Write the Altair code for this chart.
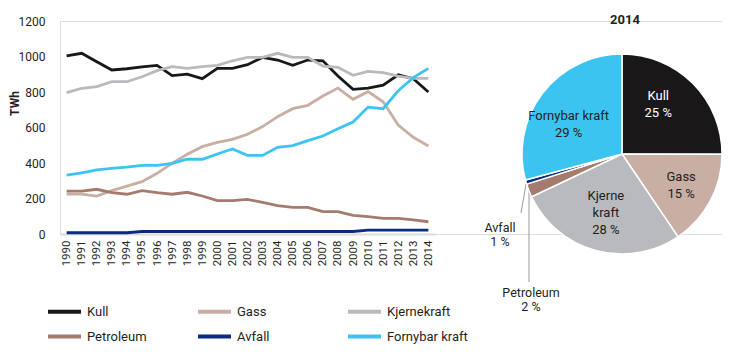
import altair as alt
import pandas as pd

years = list(range(1990, 2015))
kull = [1004, 1018, 970, 924, 931, 941, 950, 892, 901, 875, 933, 933, 954, 995, 980, 950, 980, 976, 890, 815, 822, 839, 897, 875, 800]
gass = [225, 225, 214, 244, 270, 295, 342, 398, 449, 492, 516, 533, 562, 605, 661, 706, 725, 777, 822, 759, 802, 745, 614, 545, 496]
kjernekraft = [796, 821, 830, 858, 858, 886, 920, 943, 933, 943, 950, 976, 995, 995, 1018, 995, 995, 946, 939, 894, 916, 909, 890, 877, 877]
petroleum = [242, 242, 252, 233, 224, 244, 233, 224, 235, 214, 188, 188, 195, 178, 160, 150, 150, 126, 126, 105, 98, 88, 88, 79, 69]
avfall = [7, 7, 7, 7, 7, 14, 14, 14, 14, 14, 14, 14, 14, 14, 14, 14, 14, 14, 14, 14, 22, 22, 22, 22, 22]
fornybar = [332, 344, 361, 370, 377, 387, 387, 398, 421, 421, 451, 479, 443, 443, 488, 498, 526, 552, 593, 631, 715, 706, 807, 881, 933]

series_names = ["Kull", "Gass", "Kjernekraft", "Petroleum", "Avfall", "Fornybar kraft"]
series_colors = ["#1a1718", "#c9aea4", "#b9babd", "#a47b6c", "#0b2d7e", "#3cc4f0"]
series_values = [kull, gass, kjernekraft, petroleum, avfall, fornybar]

pie_pct = ["25 %", "15 %", "28 %", "2 %", "1 %", "29 %"]
pie_inner = ["Kull", "Gass", "Kjerne\nkraft", "", "", "Fornybar kraft"]
# label group per slice: A = shifted counter-clockwise, B = outer, C = three lines
pie_label_group = ["A", "B", "C", "", "", "A"]

FONT = "Roboto"
TXT = "#231f20"

rows = []
for name, vals in zip(series_names, series_values):
    for y, v in zip(years, vals):
        rows.append({"year": y, "series": name, "value": v})
df = pd.DataFrame(rows)

pie_rows = []
for i, (name, vals) in enumerate(zip(series_names, series_values)):
    inner = pie_inner[i] + "\n" + pie_pct[i] if pie_inner[i] else ""
    pie_rows.append({"idx": i, "cat": name, "val": vals[-1], "inner": inner,
                     "grp": pie_label_group[i], "ext": name + "\n" + pie_pct[i]})
pie_df = pd.DataFrame(pie_rows)

color_scale = alt.Scale(domain=series_names, range=series_colors)

lines = alt.Chart(df).mark_line(strokeWidth=2.8).encode(
    x=alt.X("year:O",
            scale=alt.Scale(type="point", range=[0, 375], padding=0.44),
            axis=alt.Axis(title=None, labelAngle=-90, labelAlign="right", labelBaseline="middle",
                          domainColor="#dcdcdc", domainWidth=2, ticks=False, grid=False,
                          labelPadding=6, labelFontSize=11.5, labelColor=TXT, labelFont=FONT)),
    y=alt.Y("value:Q",
            scale=alt.Scale(domain=[0, 1200]),
            axis=alt.Axis(title="TWh", values=[0, 200, 400, 600, 800, 1000, 1200], format="d",
                          domain=False, ticks=False, grid=False, labelPadding=15,
                          labelFontSize=12, labelColor=TXT, labelFont=FONT,
                          titleFont=FONT, titleFontSize=12, titleFontWeight="bold",
                          titleColor=TXT, titleAngle=-90, titleX=-46, titleY=82,
                          titleAlign="center", titleBaseline="middle")),
    color=alt.Color("series:N", scale=color_scale, sort=series_names,
                    legend=alt.Legend(title=None, orient="none", legendX=-3, legendY=283,
                                      direction="horizontal", columns=3,
                                      symbolType="M-3,0H3", symbolSize=121,
                                      symbolStrokeWidth=4, labelFontSize=13, labelFont=FONT,
                                      labelColor=TXT, labelOffset=15, gridAlign="all",
                                      columnPadding=22, rowPadding=8, padding=0)),
)

CX, CY, R = 562, 133, 100

arcs = alt.Chart(pie_df).mark_arc(stroke="white", strokeWidth=1.5).encode(
    theta=alt.Theta("val:Q", stack=True),
    order=alt.Order("idx:Q"),
    color=alt.Color("cat:N", scale=color_scale, sort=series_names, legend=None),
    x=alt.value(CX), y=alt.value(CY), radius=alt.value(R),
)

label_color = alt.condition(alt.datum.cat == "Kull", alt.value("white"), alt.value(TXT))


def inner_layer(group, radius, dy, theta_offset):
    return alt.Chart(pie_df).transform_calculate(
        t=f"datum.grp === '{group}' ? datum.inner : ''"
    ).mark_text(
        font=FONT, fontSize=13, lineBreak="\n", lineHeight=17, align="center",
        baseline="middle", dy=dy, thetaOffset=theta_offset
    ).encode(
        theta=alt.Theta("val:Q", stack=True),
        order=alt.Order("idx:Q"),
        text="t:N",
        x=alt.value(CX), y=alt.value(CY), radius=alt.value(radius),
        color=label_color,
    )


labels_a = inner_layer("A", 61, -8.5, -0.15)
labels_b = inner_layer("B", 67, -8.5, 0)
labels_c = inner_layer("C", 61, -17, 0)

avfall_lbl = alt.Chart(pie_df).transform_filter(alt.datum.cat == "Avfall").mark_text(
    font=FONT, fontSize=12.5, lineBreak="\n", lineHeight=14, align="center", baseline="middle", color=TXT
).encode(text="ext:N", x=alt.value(440), y=alt.value(207))

petro_lbl = alt.Chart(pie_df).transform_filter(alt.datum.cat == "Petroleum").mark_text(
    font=FONT, fontSize=12.5, lineBreak="\n", lineHeight=14, align="center", baseline="middle", color=TXT
).encode(text="ext:N", x=alt.value(471), y=alt.value(272))

avfall_leader = alt.Chart(pie_df).transform_filter(alt.datum.cat == "Avfall").mark_rule(
    color="#9a9a9a", strokeWidth=1
).encode(x=alt.value(466), y=alt.value(163), x2=alt.value(461), y2=alt.value(192))

petro_leader = alt.Chart(pie_df).transform_filter(alt.datum.cat == "Petroleum").mark_rule(
    color="#9a9a9a", strokeWidth=1
).encode(x=alt.value(469), y=alt.value(168), x2=alt.value(469), y2=alt.value(261))

pie_title = alt.Chart(pie_df).transform_filter(alt.datum.idx == 0).mark_text(
    font=FONT, fontSize=13, fontWeight="bold", color=TXT, align="center", baseline="middle"
).encode(text=alt.value("2014"), x=alt.value(CX + 3), y=alt.value(-1))

chart = alt.layer(
    lines, avfall_leader, petro_leader, arcs, labels_a, labels_b, labels_c,
    avfall_lbl, petro_lbl, pie_title
).resolve_scale(theta="independent").properties(
    width=662, height=213,
    autosize=alt.AutoSizeParams(type="none"),
    padding={"left": 52, "top": 13, "right": 0, "bottom": 114},
).configure_view(stroke=None).configure(background="white")

chart.save("out.html", embed_options={"renderer": "svg", "actions": False})
